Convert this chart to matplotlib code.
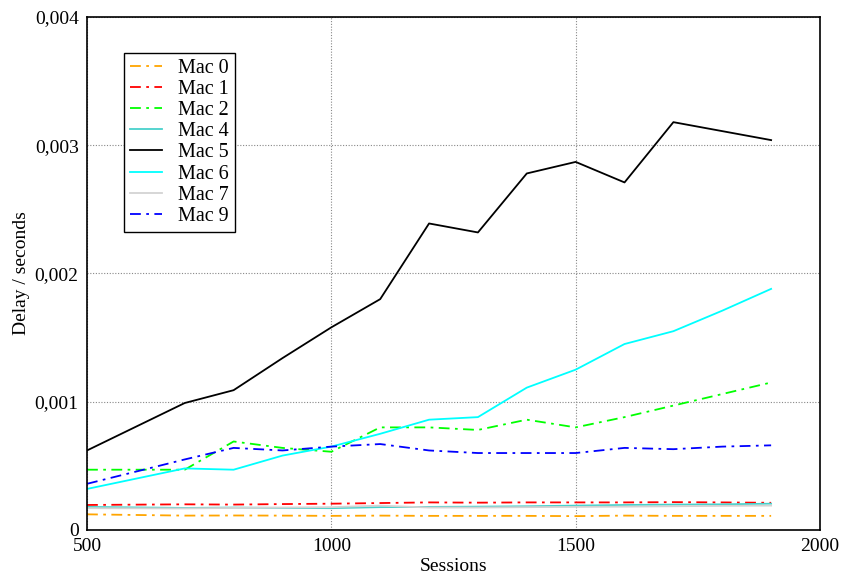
import matplotlib
matplotlib.use("Agg")
import matplotlib.pyplot as plt
from matplotlib.ticker import FuncFormatter, FixedLocator

plt.rcParams['font.family'] = ['Liberation Serif', 'DejaVu Serif']

sessions = [500, 700, 800, 900, 1000, 1100, 1200, 1300, 1400, 1500, 1600, 1700, 1800, 1900]

mac0 = [0.000122, 0.000112, 0.000113, 0.000112, 0.000110, 0.000112, 0.000110, 0.000110, 0.000110, 0.000108, 0.000112, 0.000110, 0.000110, 0.000110]
mac1 = [0.000195, 0.000200, 0.000198, 0.000202, 0.000205, 0.000210, 0.000215, 0.000213, 0.000215, 0.000215, 0.000215, 0.000217, 0.000215, 0.000212]
mac2 = [0.00047, 0.00047, 0.00069, 0.00064, 0.00061, 0.00080, 0.00080, 0.00078, 0.00086, 0.00080, 0.00088, 0.00097, 0.00106, 0.00115]
mac4 = [0.000180, 0.000172, 0.000175, 0.000172, 0.000170, 0.000178, 0.000180, 0.000182, 0.000185, 0.000190, 0.000195, 0.000198, 0.000200, 0.000205]
mac5 = [0.00062, 0.00099, 0.00109, 0.00134, 0.00158, 0.00180, 0.00239, 0.00232, 0.00278, 0.00287, 0.00271, 0.00318, 0.00311, 0.00304]
mac6 = [0.00032, 0.00048, 0.00047, 0.00058, 0.00065, 0.00075, 0.00086, 0.00088, 0.00111, 0.00125, 0.00145, 0.00155, 0.00171, 0.00188]
mac7 = [0.000170, 0.000168, 0.000172, 0.000175, 0.000178, 0.000190, 0.000175, 0.000175, 0.000178, 0.000180, 0.000182, 0.000185, 0.000188, 0.000190]
mac9 = [0.00036, 0.00055, 0.00064, 0.00062, 0.00065, 0.00067, 0.00062, 0.00060, 0.00060, 0.00060, 0.00064, 0.00063, 0.00065, 0.00066]

series = [
    ("Mac 0", mac0, "#FFA500", "dashdot"),
    ("Mac 1", mac1, "#FF0000", "dashdot"),
    ("Mac 2", mac2, "#00FF00", "dashdot"),
    ("Mac 4", mac4, "#48D1CC", "solid"),
    ("Mac 5", mac5, "#000000", "solid"),
    ("Mac 6", mac6, "#00FFFF", "solid"),
    ("Mac 7", mac7, "#D3D3D3", "solid"),
    ("Mac 9", mac9, "#0000FF", "dashdot"),
]

xticks = [500, 1000, 1500, 2000]
yticks = [0, 0.001, 0.002, 0.003, 0.004]

fig = plt.figure(figsize=(8.43, 5.76), dpi=100)
ax = fig.add_axes([0.1032, 0.0799, 0.8695, 0.8906])

dd = (0, (6, 3, 1.5, 3))
for name, vals, color, style in series:
    ls = dd if style == "dashdot" else "-"
    ax.plot(sessions, vals, color=color, linestyle=ls, linewidth=1.3, label=name)

ax.set_xlim(500, 2000)
ax.set_ylim(0, 0.004)
ax.xaxis.set_major_locator(FixedLocator(xticks))
ax.yaxis.set_major_locator(FixedLocator(yticks))
ax.yaxis.set_major_formatter(FuncFormatter(lambda v, p: "0" if v == 0 else ("%.3f" % v).replace(".", ",")))
ax.tick_params(axis='both', length=0, labelsize=14, pad=6)
ax.grid(True, color="#888888", linestyle=(0, (1, 1.5)), linewidth=0.8)
for s in ax.spines.values():
    s.set_linewidth(1.2)
    s.set_color("black")

ax.set_xlabel("Sessions", fontsize=14, labelpad=2)
ax.set_ylabel("Delay / seconds", fontsize=14, labelpad=3)

leg = ax.legend(loc="upper left", bbox_to_anchor=(0.05, 0.93), fontsize=14.5,
                frameon=True, fancybox=False, edgecolor="black", framealpha=1,
                handlelength=1.6, handletextpad=0.8, labelspacing=0.1, borderpad=0.3,
                borderaxespad=0)
leg.get_frame().set_linewidth(1.0)

fig.savefig("out.png", dpi=100)
